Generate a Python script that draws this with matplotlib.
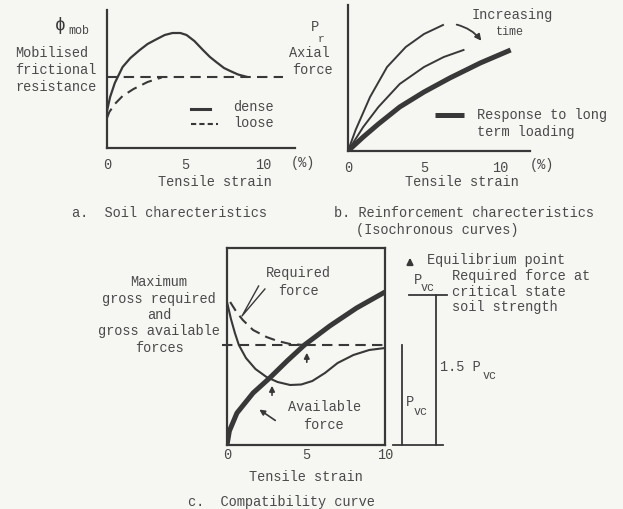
import matplotlib
matplotlib.use("Agg")
import matplotlib.pyplot as plt

W, H = 623, 509
INK = '#383838'
TXT = '#4a4a4a'
BG = '#f6f6f3'

# a. soil characteristics (strain %, mobilised friction, arbitrary units)
strain_dense = [0, 0.1, 0.2, 0.5, 1.0, 1.5, 2.1, 2.6, 3.2, 3.7, 4.2, 4.7, 5.1, 5.6, 6.15, 6.6, 7.0, 7.5, 7.9, 8.4, 9.0]
phi_dense = [3.7, 4.4, 5.1, 6.5, 8.1, 9.0, 9.8, 10.4, 10.9, 11.3, 11.5, 11.5, 11.3, 10.7, 9.8, 9.1, 8.6, 8.0, 7.7, 7.35, 7.1]
strain_loose = [0, 0.15, 0.5, 1.0, 1.7, 2.6, 3.5]
phi_loose = [3.0, 3.6, 4.4, 5.2, 5.9, 6.6, 7.05]
phi_cv = 7.1

# b. reinforcement isochronous curves (strain %, axial force)
strain_b1 = [0, 0.5, 1.45, 2.57, 3.8, 5.0, 6.25]
force_b1 = [0, 2.1, 5.4, 8.4, 10.4, 11.7, 12.6]
strain_b2 = [0, 1.0, 2.0, 3.4, 5.0, 6.3, 7.6]
force_b2 = [0, 2.4, 4.4, 6.7, 8.4, 9.4, 10.1]
strain_long = [0, 1.0, 2.0, 3.4, 5.0, 6.7, 8.7, 10.7]
force_long = [0, 1.4, 2.7, 4.4, 5.9, 7.3, 8.8, 10.1]

# c. compatibility curve
strain_avail = [0, 0.15, 0.63, 1.65, 2.7, 3.8, 4.9, 6.5, 8.2, 10]
force_avail = [0, 1.4, 3.2, 5.2, 6.7, 8.4, 10.0, 11.9, 13.7, 15.3]
strain_req = [0.2, 0.6, 1.0, 1.65, 2.5, 3.2, 4.0, 4.9]
force_req = [14.3, 13.3, 12.5, 11.5, 10.8, 10.4, 10.1, 10.0]
strain_soil = [0, 0.25, 0.5, 0.75, 1.2, 1.8, 2.5, 3.2, 4.0, 4.7, 5.4, 6.2, 7.0, 8.0, 9.0, 10]
force_soil = [14.3, 12.6, 11.2, 10.0, 8.7, 7.6, 6.8, 6.3, 6.0, 6.05, 6.4, 7.2, 8.2, 9.0, 9.5, 9.7]
p_vc = 10.0
p_15 = 1.5 * p_vc
equilibrium = [(4.9, 10.0), (2.7, 6.7)]

plt.rcParams['font.family'] = ['Liberation Mono', 'DejaVu Sans Mono']
plt.rcParams['font.size'] = 9.8
plt.rcParams['text.color'] = TXT
plt.rcParams['xtick.color'] = TXT
plt.rcParams['xtick.labelcolor'] = TXT

fig = plt.figure(figsize=(W / 100, H / 100), dpi=100, facecolor=BG)


def box(l, t, r, b):
    return [l / W, 1 - b / H, (r - l) / W, (b - t) / H]


def ftext(px, py, s, **kw):
    kw.setdefault('va', 'center')
    kw.setdefault('ha', 'left')
    return fig.text(px / W, 1 - py / H, s, **kw)


def style(ax, spines):
    ax.set_facecolor('none')
    for k, sp in ax.spines.items():
        sp.set_visible(k in spines)
        sp.set_color(INK)
        sp.set_linewidth(1.6)
    ax.set_yticks([])


# ---- a ----
axa = fig.add_axes(box(107, 10, 295, 148))
style(axa, ['left', 'bottom'])
axa.set_xlim(0, (295 - 107) / 15.6)
axa.set_ylim(0, 13.8)
axa.plot(strain_dense, phi_dense, color=INK, lw=1.6, solid_capstyle='round')
axa.plot(strain_loose, phi_loose, color=INK, lw=1.5, dashes=(5, 3))
axa.plot([0, 11.3], [phi_cv, phi_cv], color=INK, lw=1.5, dashes=(5, 3))
axa.set_xticks([0, 5, 10])
axa.tick_params(axis='x', length=0, pad=7)
axa.plot([5.4, 6.6], [3.9, 3.9], color=INK, lw=2.2, clip_on=False)
axa.plot([5.4, 7.1], [2.4, 2.4], color=INK, lw=1.5, dashes=(2.5, 1.5), clip_on=False)
ftext(233, 107, 'dense')
ftext(233, 123, 'loose')
ftext(303, 163, '(%)', ha='center')
ftext(215, 182, 'Tensile strain', ha='center')
ftext(72, 213, 'a.  Soil charecteristics')
ftext(60, 26, '\u03d5', ha='center', fontsize=13, color=INK)
ftext(68, 31, 'mob', fontsize=8.5)
ftext(15, 53, 'Mobilised')
ftext(15, 70, 'frictional')
ftext(15, 87, 'resistance')

# ---- b ----
axb = fig.add_axes(box(348, 5, 530, 151))
style(axb, ['left', 'bottom'])
axb.set_xlim(0, (530 - 348) / 15.2)
axb.set_ylim(0, 14.6)
axb.plot(strain_b1, force_b1, color=INK, lw=1.4)
axb.plot(strain_b2, force_b2, color=INK, lw=1.4)
axb.plot(strain_long, force_long, color=INK, lw=3.6, solid_capstyle='butt')
axb.set_xticks([0, 5, 10])
axb.tick_params(axis='x', length=0, pad=7)
axb.plot([5.7, 7.6], [3.6, 3.6], color=INK, lw=3.6, clip_on=False, solid_capstyle='butt')
ftext(477, 115, 'Response to long')
ftext(477, 132, 'term loading')
ftext(512, 15, 'Increasing', ha='center')
ftext(510, 32, 'time', ha='center', fontsize=8.5)
axb.annotate('', xy=(483 / W, 1 - 43 / H), xytext=(454 / W, 1 - 24 / H),
             xycoords='figure fraction', textcoords='figure fraction',
             arrowprops=dict(arrowstyle='-|>', color=INK, lw=1.3,
                             mutation_scale=9, connectionstyle='arc3,rad=-0.2'))
ftext(542, 165, '(%)', ha='center')
ftext(462, 182, 'Tensile strain', ha='center')
ftext(315, 27, 'P', ha='center')
ftext(321, 39, 'r', ha='center', fontsize=8)
ftext(330, 53, 'Axial', ha='right')
ftext(333, 70, 'force', ha='right')
ftext(334, 213, 'b. Reinforcement charecteristics')
ftext(356, 230, '(Isochronous curves)')

# ---- c ----
axc = fig.add_axes(box(227, 248, 385, 445))
style(axc, ['left', 'bottom', 'top', 'right'])
axc.set_xlim(0, 10)
axc.set_ylim(0, 19.7)
axc.plot(strain_avail, force_avail, color=INK, lw=3.6, solid_capstyle='butt')
axc.plot(strain_req, force_req, color=INK, lw=1.5, dashes=(5, 3))
axc.plot([-0.3, 10], [p_vc, p_vc], color=INK, lw=1.5, dashes=(5, 3), clip_on=False)
axc.plot(strain_soil, force_soil, color=INK, lw=1.5)
axc.set_xticks([0, 5, 10])
axc.tick_params(axis='x', length=0, pad=2)
for ex, ey in equilibrium:
    axc.annotate('', xy=(ex + 0.15, ey - 0.5), xytext=(ex + 0.15, ey - 2.0),
                 arrowprops=dict(arrowstyle='-|>', color=INK, lw=1.2, mutation_scale=8))
# pointers
axc.plot([2.0, 0.95, 2.4], [15.9, 12.9, 15.6], color=INK, lw=1.0)
axc.annotate('', xy=(1.9, 3.7), xytext=(3.2, 2.3),
             arrowprops=dict(arrowstyle='-|>', color=INK, lw=1.2, mutation_scale=8))
# P_vc bars
axc.plot([11.1, 11.1], [0, p_vc], color=INK, lw=1.3, clip_on=False)
axc.plot([13.2, 13.2], [0, p_15], color=INK, lw=1.3, clip_on=False)
axc.plot([10.5, 13.7], [0, 0], color=INK, lw=1.3, clip_on=False)
axc.plot([11.5, 13.9], [p_15, p_15], color=INK, lw=1.3, clip_on=False)
ftext(306, 477, 'Tensile strain', ha='center')
ftext(188, 502, 'c.  Compatibility curve')
ftext(298, 273, 'Required', ha='center')
ftext(298, 291, 'force', ha='center')
ftext(325, 407, 'Available', ha='center')
ftext(323, 425, 'force', ha='center')
for i, s in enumerate(['Maximum', 'gross required', 'and', 'gross available', 'forces']):
    ftext(159, 282 + 16.5 * i, s, ha='center')
axc.annotate('', xy=(410 / W, 1 - 255 / H), xytext=(410 / W, 1 - 265 / H),
             xycoords='figure fraction', textcoords='figure fraction',
             arrowprops=dict(arrowstyle='-|>', color=INK, lw=1.5, mutation_scale=9))
ftext(427, 260, 'Equilibrium point')
ftext(452, 276, 'Required force at')
ftext(452, 292, 'critical state')
ftext(452, 307, 'soil strength')
ftext(418, 280, 'P', ha='center')
ftext(428, 288, 'vc', ha='center', fontsize=8.5)
ftext(410, 402, 'P', ha='center')
ftext(421, 412, 'vc', ha='center', fontsize=8.5)
ftext(440, 367, '1.5 P')
ftext(490, 376, 'vc', ha='center', fontsize=8.5)

fig.savefig('out.png', dpi=100, facecolor=BG)
